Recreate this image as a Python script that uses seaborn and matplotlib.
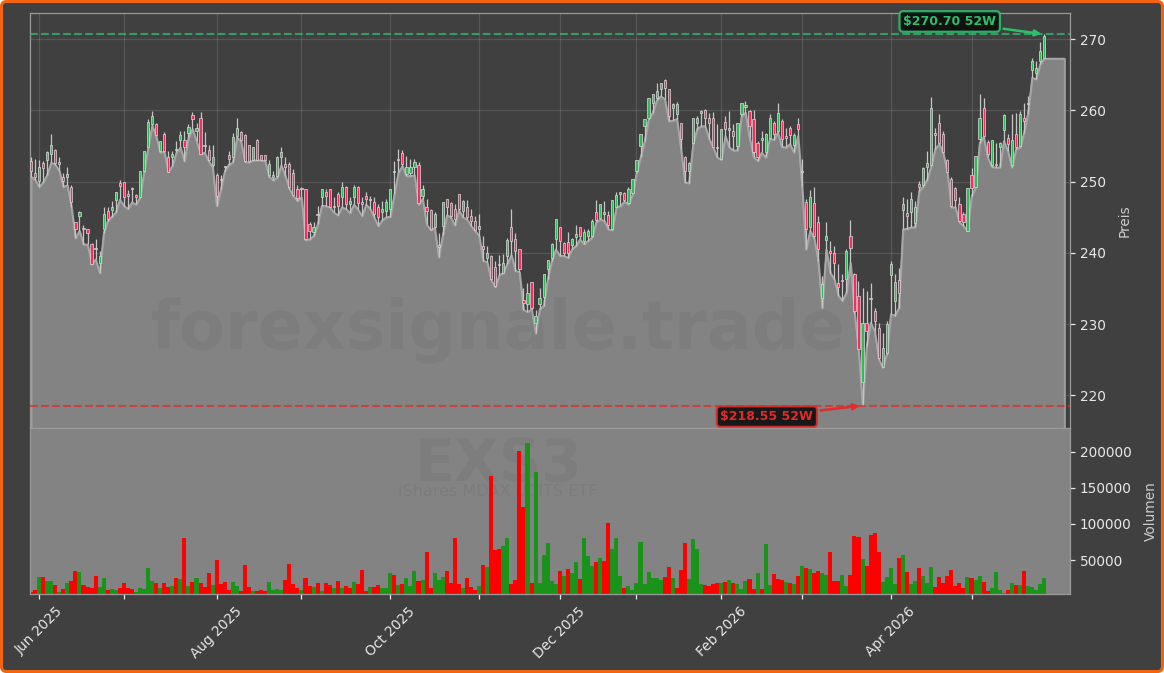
import matplotlib
matplotlib.use("Agg")
import matplotlib.pyplot as plt
import numpy as np
import pandas as pd
import seaborn as sns
from matplotlib.patches import FancyBboxPatch
from matplotlib.transforms import IdentityTransform

# daily candles (body top / bottom instead of open / close)
highs = [253.4,253.2,253.0,252.9,254.3,256.7,254.6,253.5,251.2,252.0,
         249.5,244.3,245.9,243.9,243.4,241.4,241.9,240.3,246.4,246.4,
         247.3,248.6,250.2,249.9,248.8,249.2,248.2,251.5,254.3,258.8,
         259.9,258.2,255.7,257.0,254.3,254.3,255.7,257.1,257.1,258.1,
         259.8,258.3,259.8,257.0,255.1,255.2,251.2,251.0,252.2,254.3,
         256.9,259.0,257.1,256.7,255.2,254.9,256.0,253.8,253.8,253.1,
         251.5,253.6,254.8,253.5,252.7,251.8,249.5,249.2,249.0,244.3,
         244.3,246.6,249.0,249.0,249.0,247.8,248.5,250.0,249.4,247.9,
         249.6,249.4,247.8,248.5,248.0,247.8,246.8,247.3,247.5,249.0,
         252.9,254.6,254.5,253.6,253.2,253.2,252.7,249.6,247.5,246.1,
         245.7,242.8,247.2,247.6,247.1,246.8,248.2,247.4,247.4,246.1,
         245.2,245.4,242.4,241.0,239.7,238.9,239.7,239.8,242.1,246.1,
         242.8,240.6,235.1,235.8,235.9,232.0,235.1,237.1,239.0,241.4,
         244.8,243.7,241.5,242.9,242.1,243.9,243.7,243.3,243.4,244.7,
         247.4,246.8,247.3,245.9,247.4,248.5,248.5,248.6,249.2,250.4,
         253.1,256.7,258.8,261.8,262.3,263.9,263.9,264.4,263.0,261.1,
         261.2,258.3,253.6,252.7,259.0,259.2,260.1,260.2,259.7,259.8,
         258.1,257.4,259.2,259.9,258.1,258.3,261.1,261.3,260.1,260.0,
         255.7,257.1,256.9,259.5,258.5,261.1,258.8,257.6,257.8,256.9,
         259.0,253.2,247.5,248.8,249.2,245.2,236.8,244.3,241.6,241.0,
         238.4,237.1,240.5,244.6,237.2,236.1,235.1,234.7,235.8,232.3,
         230.2,228.8,230.4,238.9,237.0,237.9,247.8,247.5,248.5,247.3,
         250.1,252.0,254.3,261.9,257.6,259.5,257.1,253.2,250.6,249.2,
         247.9,245.7,249.1,251.9,253.6,262.3,261.7,255.8,255.9,255.5,
         255.6,259.5,256.7,259.5,259.7,259.9,261.1,262.0,267.4,266.9,
         269.6,270.7]

body_tops = [252.9,251.2,252.0,252.6,254.2,255.1,254.5,252.8,250.7,251.1,
             249.3,244.3,245.8,243.4,243.3,241.2,240.7,239.6,245.4,245.9,
             246.5,248.5,249.8,249.9,248.2,249.0,248.1,251.5,254.3,258.4,
             259.2,258.1,255.7,256.7,253.4,253.9,254.6,256.5,255.9,257.7,
             259.3,257.6,258.9,255.2,254.4,253.5,251.0,250.4,252.1,253.8,
             256.3,257.6,257.0,256.6,255.2,254.8,255.9,253.8,253.8,252.5,
             251.0,253.5,254.1,252.5,252.5,251.2,249.0,249.1,248.9,244.0,
             243.6,245.5,248.9,248.6,248.9,246.5,248.3,249.3,249.3,247.3,
             249.3,249.3,247.2,248.0,247.5,247.2,246.4,246.2,247.1,248.9,
             251.4,253.2,254.0,252.0,252.1,252.8,252.3,248.9,246.4,246.0,
             245.5,241.1,247.1,247.5,247.0,246.1,248.2,247.3,246.4,245.2,
             244.5,243.8,240.9,240.0,239.5,238.0,238.5,238.6,241.8,243.7,
             242.0,240.6,233.4,234.3,235.9,231.2,233.7,237.1,239.0,241.2,
             244.8,243.6,241.4,241.5,242.0,242.6,243.7,242.9,243.0,244.5,
             245.7,246.8,245.7,245.3,247.4,248.1,248.5,248.4,248.9,250.4,
             253.1,256.7,258.8,261.8,262.3,262.8,263.9,264.3,263.0,260.9,
             260.9,258.2,253.4,252.6,259.0,259.0,259.9,260.1,258.9,259.0,
             254.9,257.4,258.4,257.5,257.1,258.3,261.0,260.8,259.9,258.8,
             255.5,256.1,256.7,259.0,258.3,259.7,258.5,256.4,257.5,256.6,
             258.1,251.5,247.2,247.8,247.0,244.3,235.6,242.4,240.3,240.0,
             235.8,236.1,240.3,242.4,237.1,234.0,230.2,230.2,233.7,231.8,
             229.5,226.7,230.0,238.4,235.9,236.2,246.9,245.6,247.6,246.4,
             249.7,251.9,252.6,260.4,256.8,258.3,256.7,253.1,250.4,249.1,
             246.9,245.5,249.1,251.0,253.6,258.9,260.4,255.6,255.9,252.5,
             255.5,259.3,256.2,255.9,256.7,259.5,259.0,261.1,266.9,266.0,
             268.3,270.4]

body_bots = [251.5,250.6,250.1,251.9,253.0,253.9,252.6,252.5,250.1,250.7,
             247.2,243.4,245.2,243.3,242.8,238.5,240.6,238.6,243.4,244.7,
             246.0,247.4,249.4,247.8,248.0,248.9,247.9,247.9,251.5,254.8,
             258.1,256.5,254.3,254.3,251.4,253.4,254.5,255.9,254.9,256.9,
             258.8,257.1,253.9,255.0,253.1,252.3,248.0,250.2,252.0,253.2,
             253.5,256.4,255.9,252.9,252.9,253.1,253.1,253.0,253.0,250.9,
             250.6,250.8,253.5,252.1,249.2,248.1,247.7,249.0,241.9,243.0,
             242.9,245.3,247.8,248.0,246.5,246.4,246.6,247.8,246.8,246.8,
             247.8,247.0,246.8,247.6,247.4,245.5,245.0,245.8,245.9,246.2,
             251.3,253.1,252.5,251.1,251.2,252.0,247.0,248.0,245.9,243.3,
             243.6,240.8,243.8,246.4,245.2,244.7,246.1,245.9,245.0,244.5,
             243.2,243.3,240.6,239.3,236.3,235.3,238.3,237.2,239.6,241.7,
             240.3,237.7,233.0,232.8,232.2,230.2,232.8,233.8,237.7,239.3,
             241.9,241.7,240.0,240.0,241.1,242.2,242.4,241.7,242.4,242.4,
             244.6,244.9,245.5,243.9,243.4,246.5,248.2,247.4,247.0,248.4,
             251.5,255.0,257.8,259.0,261.1,261.8,263.0,263.2,259.2,260.3,
             259.5,256.0,251.5,251.5,255.5,258.3,259.6,259.0,258.2,254.9,
             254.7,253.2,257.4,257.3,256.4,255.0,259.5,260.5,257.8,254.1,
             253.4,255.9,254.1,256.2,256.7,257.1,256.0,256.2,256.6,255.1,
             257.4,251.3,243.4,243.7,242.3,240.6,233.6,241.8,240.0,238.6,
             235.2,236.0,236.3,240.7,231.8,226.5,221.8,229.0,233.5,230.4,
             225.3,223.9,226.0,236.9,233.2,234.4,246.0,245.2,245.8,244.2,
             249.3,249.5,252.0,252.3,256.6,255.4,254.1,251.4,246.6,247.4,
             244.5,244.3,243.1,249.1,249.2,256.0,256.4,253.9,252.4,252.3,
             254.9,257.3,255.3,252.4,254.9,255.0,258.5,260.9,265.7,265.2,
             266.9,267.4]

lows = [250.7,250.3,249.3,249.9,251.0,252.7,252.4,251.5,249.3,249.5,
        246.4,242.1,243.1,241.2,241.2,238.4,239.1,237.2,242.8,244.5,
        245.1,245.7,247.5,246.6,246.2,247.1,246.8,247.8,251.4,254.8,
        257.9,256.4,254.1,254.2,251.4,252.2,254.1,254.8,252.9,256.2,
        257.4,255.7,253.9,254.1,252.9,252.0,246.6,248.9,251.5,252.4,
        252.7,256.2,255.7,252.8,252.7,253.0,253.0,253.0,252.9,250.7,
        250.2,250.6,252.3,250.8,249.0,248.0,247.3,247.8,241.8,241.9,
        242.4,244.0,246.6,246.6,246.4,245.7,245.3,246.4,246.2,245.6,
        246.8,246.1,245.2,246.8,246.2,245.0,243.8,244.6,245.0,245.1,
        248.2,251.3,252.2,250.8,250.8,250.9,246.8,247.6,244.0,243.2,
        243.5,239.4,242.5,245.3,245.0,243.9,246.0,245.0,244.7,243.8,
        243.1,242.4,238.9,238.7,236.2,235.2,236.9,237.2,238.5,239.7,
        237.5,237.3,232.0,231.7,232.1,228.7,232.1,232.6,236.3,238.9,
        240.5,239.6,239.6,239.3,240.5,241.0,241.9,241.2,241.7,242.2,
        244.3,244.7,244.5,243.3,243.2,246.4,246.6,247.2,246.8,248.2,
        251.2,253.4,255.7,258.8,259.7,261.4,262.0,261.6,258.5,258.6,
        258.8,254.6,249.9,249.8,255.3,257.4,257.8,257.8,256.0,254.8,
        253.4,253.1,256.4,254.8,254.4,254.4,259.2,259.7,256.2,253.5,
        252.9,254.1,253.4,256.0,255.9,256.9,254.9,254.8,255.3,254.1,
        256.4,249.4,240.5,243.1,242.1,238.9,232.3,240.5,237.2,236.3,
        234.0,233.3,234.4,238.6,231.6,226.5,218.55,226.9,230.2,229.0,
        225.1,223.9,225.8,231.4,231.2,232.3,243.3,243.4,243.6,243.6,
        248.7,249.3,250.3,252.2,254.6,255.3,254.0,251.3,246.4,246.4,
        244.3,243.8,243.1,248.0,249.2,255.4,256.3,253.4,252.1,252.0,
        252.0,255.7,254.3,252.0,254.6,254.8,256.9,259.7,264.6,264.4,
        266.5,267.3]

candle_dirs = ("RRGRGGRGRG" "RRGRRRRGGR" "GGRRRRRGGG" "GRGRRGGGRG" "RGRRRGRRRR"
               "GGRRRGRRRG" "GGGRRRRRRR" "GRGRRRRGRG" "GRRRGRRGGG" "GRRGGGRGRR"
               "GGGRRRRGRR" "RGRGRRRGGR" "RRRGRGGGGG" "GRRRGGRGGG" "RGGRGGGRGG"
               "GGGGGGGRRG" "GRRGGGGRRR" "RGRGRGGGRR" "RGGGRGRRRG" "RGRGRRGGRR"
               "RRGRRRGRRR" "RGGGGRGRGG" "RGGGRRRRRR" "RRGRGGRRGR" "GGRGRGRGGG" "GG")

volumes = [5500,8300,26400,26400,20800,20800,15200,5500,9700,18000,
           20800,34700,33300,15200,12500,11100,27800,12500,25000,8300,
           9700,8300,11100,18000,11100,9700,5500,11100,9700,38900,
           20800,18000,11100,18000,12500,13900,25000,23600,80500,13900,
           19400,25000,18000,12500,31900,15200,50000,16700,19400,8300,
           19400,13900,6900,43000,12500,6900,6900,8300,6900,19400,
           8300,9700,8300,22200,44400,16700,11100,8300,25000,13900,
           12500,18000,6900,18000,15200,11100,20800,11100,13900,11100,
           19400,16700,36100,6900,12500,12500,15200,11100,11100,31900,
           29100,15200,16700,25000,13900,34700,20800,22200,61100,11100,
           31900,22200,26400,34700,18000,80500,16700,11100,25000,12500,
           8300,13900,43000,40300,166700,63900,65300,69400,80500,16700,
           22200,201400,123600,212500,18000,172200,18000,56900,73600,20800,
           16700,34700,27800,37500,31900,47200,23600,80500,55500,41600,
           47200,52800,48600,101400,65300,80500,27800,11100,13900,8300,
           18000,75000,16700,33300,25000,25000,22200,26400,40300,25000,
           11100,36100,73600,23600,79100,65300,16700,15200,13900,16700,
           18000,18000,19400,22200,18000,16700,9700,20800,23600,9700,
           31900,9700,72200,15200,30500,23600,22200,19400,18000,16700,
           27800,41600,38900,37500,31900,34700,31900,29100,61100,20800,
           20800,29100,13900,29100,83300,81900,51400,41600,84700,87500,
           61100,19400,26400,38900,16700,52800,56900,33300,16700,20800,
           38900,27800,18000,40300,12500,26400,18000,27800,36100,13900,
           18000,11100,26400,25000,22200,27800,19400,6900,11100,33300,
           8300,4100,8300,18000,15200,15200,34700,13900,12500,8300,
           16700,25000]

volume_dirs = ("RRGRGGRGRG" "RRGRRRRGGR" "GGRRRRGGGG" "GRGRRGRGRG" "RGRRRGRRRR"
               "GGRRRGRRRG" "GGGRRRRGRR" "GRGRRGRGRR" "GRRRGRRGGG" "RGRGGGRGRR"
               "GGGRRRRGRR" "RGRGRRRGGR" "RRRGRGGGGG" "GRGRGGRGGG" "RGRRGGGRGG"
               "GGGGGGGRRG" "RRRGGGGRRR" "RGRGRGGGRR" "GRGGRRRGRG" "RGRGRRGGRR"
               "RGGRRRGRRR" "RGGGGRGRGG" "RGGGRRRRRR" "RRGRGGRRGG" "GGRGRGRGGG" "GG")

# trading-day index of the first session of each month
month_ticks = [2, 23, 46, 67, 89, 111, 131, 150, 171, 191, 213, 233]
month_labels = ["Jun 2025", "", "Aug 2025", "", "Oct 2025", "", "Dec 2025", "",
                "Feb 2026", "", "Apr 2026", ""]

price_ticks = [220, 230, 240, 250, 260, 270]
volume_ticks = [50000, 100000, 150000, 200000]
year_high = 270.70
year_low = 218.55
year_high_idx = 251
year_low_idx = 206
area_pad_days = 5

BG = "#404040"
PANE = "#838383"
GREEN_LEVEL = "#2ebf6b"
RED_LEVEL = "#e02c2c"

sns.set_theme(style="dark")
plt.rcParams["font.family"] = ["DejaVu Sans"]

W, H = 1164, 673
fig = plt.figure(figsize=(W / 100, H / 100), dpi=100, facecolor="white")
border = FancyBboxPatch((1.5, 1.5), W - 3, H - 3, boxstyle="round,pad=0,rounding_size=5",
                        transform=IdentityTransform(), facecolor=BG, edgecolor="#f2640f",
                        linewidth=2.2, zorder=-5)
fig.add_artist(border)

ax_price = fig.add_axes([30 / W, 1 - 428 / H, 1040 / W, 415 / H], facecolor=BG)
ax_vol = fig.add_axes([30 / W, 1 - 594 / H, 1040 / W, 166 / H], facecolor=PANE, sharex=ax_price)

idx = np.arange(len(lows))
area_x = np.arange(len(lows) + area_pad_days)
area_y = np.array(lows + [lows[-1]] * area_pad_days)

# area under the lows, runs a few days past the last candle
ax_price.fill_between(area_x, area_y, 215.0, facecolor=PANE, edgecolor="#a0a0a0",
                      linewidth=1.4, zorder=1.5)
sns.lineplot(x=area_x, y=area_y, color="#a8a8a8", linewidth=1.0, ax=ax_price, zorder=1.6)

ax_price.text(498 / W, 1 - 330 / H, "forexsignale.trade", transform=fig.transFigure,
              fontsize=48, fontweight="bold", color="black", alpha=0.04,
              ha="center", va="center", zorder=1.7)

# candles
is_up = np.array([d == "G" for d in candle_dirs])
tops = np.array(body_tops)
bots = np.array(body_bots)
heights = np.maximum(tops - bots, 0.15)
ax_price.vlines(idx, lows, highs, color="#c6c6c6", linewidth=0.9, zorder=3)
ax_price.bar(idx[is_up], heights[is_up], bottom=bots[is_up], width=0.55, color="#35b85a",
             edgecolor="#dcdcdc", linewidth=0.5, zorder=4)
ax_price.bar(idx[~is_up], heights[~is_up], bottom=bots[~is_up], width=0.55, color="#f0305f",
             edgecolor="#dcdcdc", linewidth=0.5, zorder=4)

# 52 week levels
ax_price.axhline(year_high, color=GREEN_LEVEL, linestyle="--", linewidth=1.5, alpha=0.75, zorder=5)
ax_price.axhline(year_low, color=RED_LEVEL, linestyle="--", linewidth=1.5, alpha=0.75, zorder=5)
ax_price.annotate(f"${year_high:.2f} 52W", xy=(year_high_idx, year_high), xytext=(227.6, 272.5),
                  color=GREEN_LEVEL, fontsize=9, fontweight="bold", ha="center", va="center",
                  bbox=dict(boxstyle="round,pad=0.3", fc="#0c0c0c", ec=GREEN_LEVEL, lw=1.6, alpha=0.9),
                  arrowprops=dict(arrowstyle="-|>", color=GREEN_LEVEL, lw=1.8, shrinkA=2, shrinkB=2),
                  zorder=6)
ax_price.annotate(f"${year_low:.2f} 52W", xy=(year_low_idx, year_low), xytext=(182.3, 217.0),
                  color=RED_LEVEL, fontsize=9, fontweight="bold", ha="center", va="center",
                  bbox=dict(boxstyle="round,pad=0.3", fc="#0c0c0c", ec=RED_LEVEL, lw=1.6, alpha=0.9),
                  arrowprops=dict(arrowstyle="-|>", color=RED_LEVEL, lw=1.8, shrinkA=2, shrinkB=2),
                  zorder=6)

ax_price.set_ylim(215.4, 273.69)
ax_price.set_yticks(price_ticks)
ax_price.grid(True, color="white", alpha=0.12, linewidth=0.9)
ax_price.set_axisbelow(True)

# volume pane
vol_df = pd.DataFrame({"idx": idx, "volume": volumes, "dir": list(volume_dirs)})
sns.barplot(data=vol_df, x="idx", y="volume", hue="dir", palette={"R": "#ff0000", "G": "#1a931a"},
            native_scale=True, dodge=False, width=1.0, linewidth=0, saturation=1, legend=False, ax=ax_vol)
ax_vol.set_ylim(2800, 233300)
ax_vol.set_yticks(volume_ticks)
ax_vol.set_yticklabels([str(v) for v in volume_ticks])
ax_vol.text(498 / W, 1 - 464 / H, "EXS3", transform=fig.transFigure, fontsize=42, fontweight="bold",
            color="black", alpha=0.04, ha="center", va="center", zorder=0.5)
ax_vol.text(498 / W, 1 - 492 / H, "iShares MDAX UCITS ETF", transform=fig.transFigure, fontsize=11.5,
            color="black", alpha=0.05, ha="center", va="center", zorder=0.5)

ax_vol.set_xlim(-0.25, 257.4)
ax_vol.set_xticks(month_ticks)
ax_vol.set_xticklabels(month_labels)

for ax in (ax_price, ax_vol):
    ax.yaxis.tick_right()
    ax.yaxis.set_label_position("right")
    ax.tick_params(axis="y", colors="#e8e8e8", labelsize=9.8, length=3.5, width=0.9, left=False, right=True)
    for spine in ax.spines.values():
        spine.set_color("#9a9a9a")
        spine.set_linewidth(0.9)

ax_price.tick_params(axis="x", bottom=False, labelbottom=False)
ax_vol.tick_params(axis="x", colors="#e8e8e8", labelsize=9.9, length=3.5, width=0.9, bottom=True,
                   pad=4, labelrotation=45)
ax_vol.set_xlabel("")

ax_price.set_ylabel("Preis", color="#cccccc", fontsize=9.8)
ax_price.yaxis.set_label_coords(1.046, 0.5)
ax_vol.set_ylabel("Volumen", color="#cccccc", fontsize=9.8)
ax_vol.yaxis.set_label_coords(1.071, 0.5)

fig.savefig("out.png", dpi=100, facecolor=fig.get_facecolor())
